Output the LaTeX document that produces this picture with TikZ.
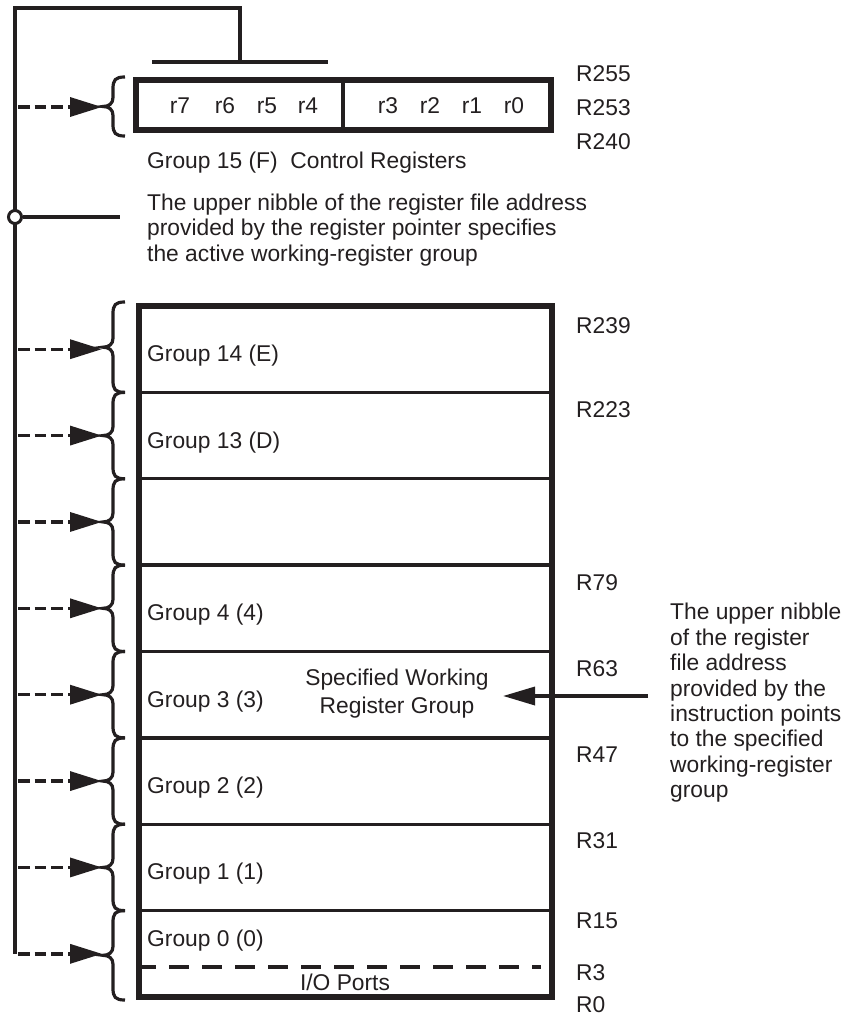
\documentclass[tikz,border=0pt]{standalone}
\usepackage{fontspec}
\setmainfont{Liberation Sans}
\usetikzlibrary{arrows.meta}
\definecolor{ink}{RGB}{35,31,32}
\newcommand\mybrace[2]{%
  \pgfmathsetmacro\ya{#1}\pgfmathsetmacro\yb{#2}\pgfmathsetmacro\ym{(#1+#2)/2}%
  \draw[brc] (125,\ya) .. controls (115,\ya) and (113,\ya+3) .. (113,\ya+12)
    -- (113,\ym-9) .. controls (113,\ym-3) and (109,\ym) .. (103,\ym)
    .. controls (109,\ym) and (113,\ym+3) .. (113,\ym+9)
    -- (113,\yb-12) .. controls (113,\yb-3) and (115,\yb) .. (125,\yb);}
\begin{document}
\begin{tikzpicture}[x=1pt,y=-1pt,
  txt/.style={font=\fontsize{22.8}{25.5}\selectfont, inner sep=0pt, anchor=base west, text=ink},
  ctxt/.style={txt, anchor=base},
  boxline/.style={draw=ink, line width=6pt, line join=miter},
  thinline/.style={draw=ink, line width=3.4pt},
  brc/.style={draw=ink, line width=3.2pt},
  darrow/.style={draw=ink, line width=3.4pt, dash pattern=on 11.7pt off 5pt,
    -{Triangle[length=32pt,width=19pt,fill=ink]}},
  sarrow/.style={draw=ink, line width=3.4pt, -{Triangle[length=32pt,width=18pt,fill=ink]}},
]
\useasboundingbox (0,0) rectangle (849,1019);

% bus and top connection
\coordinate (busTop) at (15,8);
\coordinate (busBot) at (15,953.8);
\coordinate (topCorner) at (240,8);
\coordinate (barMid) at (240,62);
\coordinate (barL) at (152,62);
\coordinate (barR) at (328,62);
\draw[thinline] (busBot) -- (busTop) -- (topCorner) -- (barMid);
\draw[thinline] (barL) -- (barR);

% tap with circle
\coordinate (tapEnd) at (120,217);
\node[circle, draw=ink, line width=3pt, fill=white, minimum size=13pt, inner sep=0pt] (tap) at (15,217) {};
\draw[thinline] (tap.east) -- (tapEnd);

% top box (group 15)
\draw[boxline] (136,80) rectangle (551,130);
\coordinate (divT) at (343,80);
\coordinate (divB) at (343,130);
\draw[thinline] (divT) -- (divB);
\foreach \t/\xx [count=\i] in {r7/180,r6/225,r5/267,r4/308,r3/388,r2/430,r1/472,r0/514}
  \node[ctxt] (reg\i) at (\xx,114) {\t};
\mybrace{77}{136}
\coordinate (a15s) at (18,107);
\coordinate (a15e) at (102,107);
\draw[darrow] (a15s) -- (a15e);

\node[txt] (g15) at (147,168) {Group 15 (F)\ \ Control Registers};
\node[txt] (m1) at (147,210) {The upper nibble of the register file address};
\node[txt] (m2) at (147,235.5) {provided by the register pointer specifies};
\node[txt] (m3) at (147,261) {the active working-register group};

% main stack
\foreach \k in {1,...,7}
  \draw[thinline] (139,306+86.375*\k) -- (552,306+86.375*\k);
\draw[draw=ink, line width=3.4pt, dash pattern=on 20pt off 13pt, dash phase=5pt] (141,967) -- (541,967);
\draw[boxline] (139,306) rectangle (552,997);

% braces and arrows
\mybrace{302}{392.375}
\foreach \k in {1,...,6}
  {\mybrace{306+86.375*\k}{306+86.375*(\k+1)}}
\mybrace{910.625}{1000}
\foreach \k in {0,...,7}
  {\coordinate (as\k) at (18,349.2+86.375*\k);
   \coordinate (ae\k) at (102,349.2+86.375*\k);
   \draw[darrow] (as\k) -- (ae\k);}

% group labels
\foreach \lab/\yy [count=\i] in {Group 14 (E)/361,Group 13 (D)/448,Group 4 (4)/620,Group 3 (3)/707,Group 2 (2)/793,Group 1 (1)/879,Group 0 (0)/946}
  \node[txt] (grp\i) at (147,\yy) {\lab};
\node[ctxt] (io) at (345,990) {I/O Ports};
\node[ctxt] (sw1) at (397,685) {Specified Working};
\node[ctxt] (sw2) at (397,713) {Register Group};

% right register addresses
\foreach \lab/\yy [count=\i] in {R255/82,R253/116,R240/150,R239/333,R223/417,R79/590,R63/676,R47/762,R31/848,R15/928,R3/980,R0/1012}
  \node[txt] (addr\i) at (576,\yy) {\lab};

% right explanation
\foreach \t [count=\i] in {The upper nibble,of the register,file address,provided by the,instruction points,to the specified,working-register,group}
  \node[txt] (rt\i) at (670,619.8+25.4*\i-25.4) {\t};
\coordinate (instrS) at (648,696);
\coordinate (instrE) at (503,696);
\draw[sarrow] (instrS) -- (instrE);
\end{tikzpicture}
\end{document}
